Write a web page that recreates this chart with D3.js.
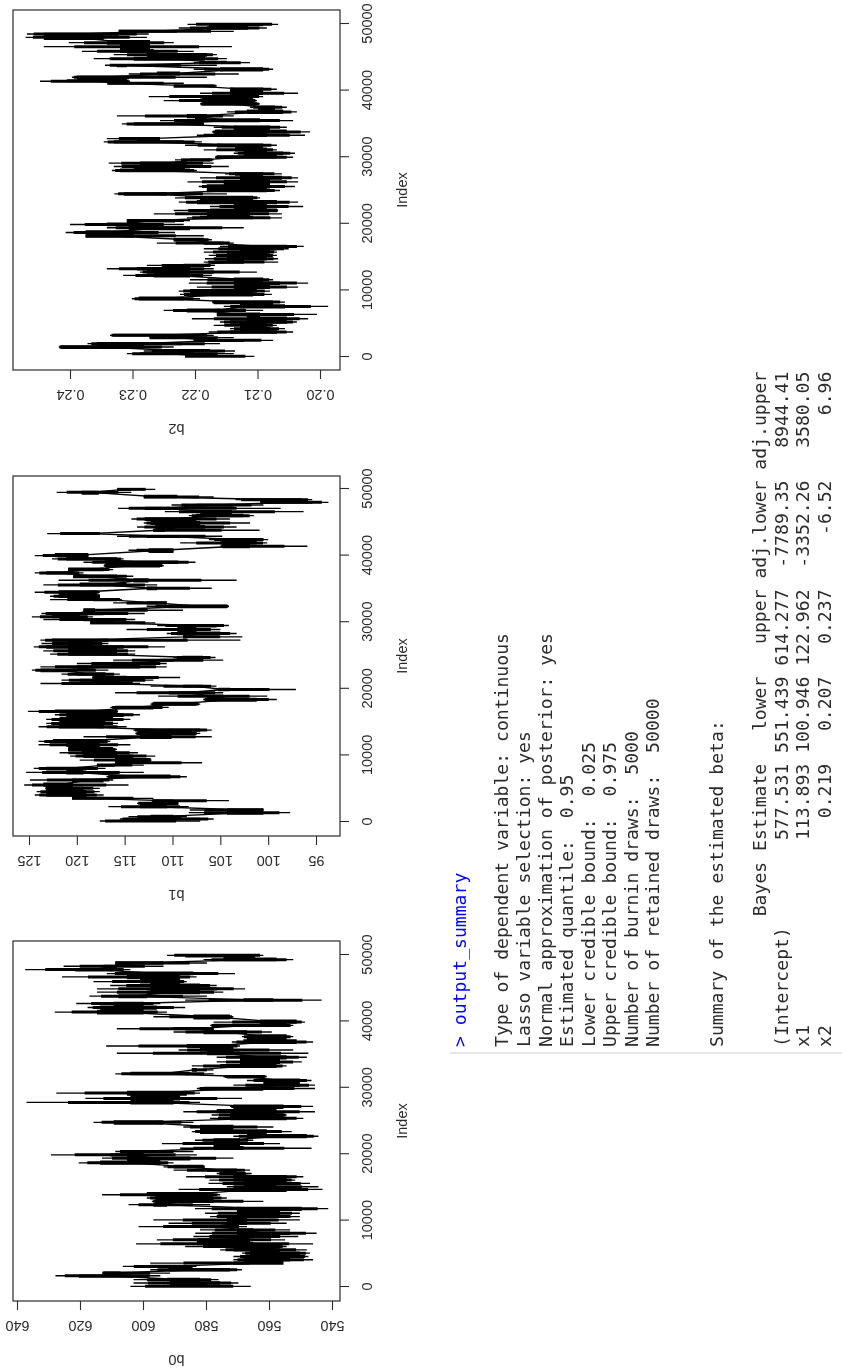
<!DOCTYPE html>
<html><head><meta charset="utf-8">
<script src="https://d3js.org/d3.v7.min.js"></script>
<style>html,body{margin:0;padding:0;background:#fff}svg{display:block;filter:blur(0.4px)}</style>
</head><body><svg id="c" width="842" height="1371"></svg>
<script>
const b0Index=[100,600,1100,1700,2100,2600,3100,3600,4100,4600,5100,5600,6100,6500,7100,7600,8100,8600,9100,9600,10100,10600,11100,11800,12400,12900,13400,13900,14700,15100,15600,16100,16600,17100,17600,18100,18700,19400,19900,20400,20900,21600,22100,22700,23400,24100,24800,25400,25900,26400,27200,27800,28400,29200,29900,30400,31100,31700,32100,32700,33300,33900,34600,35200,35700,36300,36900,37700,38400,38900,39400,39900,40700,41400,42100,42700,43200,43800,44400,44900,45400,46000,46700,47200,47800,48300,48800,49300,49950];
const b0Max=[604,603,603,627.8,613,597.7,606.4,597.7,571.3,571.3,568.6,575.5,586.6,602.2,595.6,584,583.4,581.9,601.4,591.9,596.7,578.7,580.3,583.5,604.6,597.2,598.8,613,588.7,573.4,579.2,578.9,586.3,576.6,590.3,593.5,620.4,613,629.2,608.8,588.2,594,583.5,571.3,584.5,587.2,615.7,578.7,578.2,587.2,572.4,637,618.3,627.5,582.9,571.3,567,574.5,608.8,584.5,584.5,576.6,576.6,608.3,588.7,611.7,571.8,568.6,590.3,608.3,578.7,577.6,596.7,628,617.6,621.2,586.6,617,614.6,614.6,610.4,615.7,625.7,611.5,637.4,625.2,608.8,580.8,592.4];
const b0Min=[565.8,569.7,576,594.5,591.4,568.6,583,573.4,546,547.5,547,548,554.4,546,554.9,550.7,544.9,553.3,567,554.4,550.2,550.2,550.2,541.2,578.7,561.8,573.4,575.5,543,544.3,547,551.7,549.1,565.5,566,580.3,590.3,571.3,582.9,584,546.5,556.5,565,544.3,552.8,558.6,584,549.1,554.4,545.4,546,581.9,568.6,581.9,545.4,545.4,546.5,560.7,577.6,577.6,554.4,549.6,548,547.5,552.3,569.2,546,552.3,559.1,577.6,552.3,548.6,571.3,592.4,586.6,594.5,543.3,579.7,574.5,567.6,576.6,586.1,583,570.8,604,593.5,579.7,552.3,561.8];
const b0CoreMax=[592.4,591.4,592.4,620.4,612.5,591.9,597.7,571.3,568.1,566,566,571.3,572.4,582.9,582.9,571.3,570.2,570.2,581.9,573.4,573.4,573.4,570.2,570.2,596.7,596.1,596.1,598.8,572.4,568.1,568.1,571.3,571.3,574.5,579.7,590.3,613.6,605.1,610.4,605.1,577.6,577.6,577.6,567,581.9,581.9,609.3,572.4,572.4,576.6,571.3,604,604,605.1,580.8,561.8,561.8,573.4,604,584.5,575.5,569.2,569.2,579.7,581.9,586.1,568.1,567,580.8,590.3,577.6,562.8,584,614.6,613.6,609.3,568.1,607.8,598.8,597.7,597.7,600.9,605.1,605.1,621.5,612.5,608.8,574.5,586.6];
const b0CoreMin=[579.7,575.5,581.9,603,607.2,572.4,586.1,555.4,553.3,550.2,550.2,556.5,557.6,565,566,565,553.3,565,573.4,567,567,557.6,556.5,549.6,592.4,577.6,577.6,577.6,554.4,557.6,554.4,554.4,554.4,570.2,570.2,580.8,594.5,585,599.8,599.8,568.1,569.2,569.2,548,560.7,571.3,593.5,554.4,555.4,557.6,555.4,590.3,588.2,586.1,561.8,550.2,550.2,561.8,585,582.9,557.6,556.5,554.4,569.2,571.3,571.3,551.2,554.4,567,577.6,554.4,551.2,572.4,599.8,595.6,599.8,558.6,598.8,581.9,576.6,581.9,588.2,588.2,584,609.3,608.3,593.5,557.6,564.4];

const b1Index=[150,450,800,1400,1800,2300,2800,3200,3550,4050,4550,5050,5550,6300,6800,7450,8050,8550,8900,9300,9900,10400,10900,11600,12100,12800,13300,13800,14300,14800,15400,16100,16600,17200,17700,18400,18900,19400,19900,20400,20800,21300,21700,22200,22800,23300,23800,24300,24700,25200,25700,26300,26800,27300,27800,28300,28900,29500,29900,30400,30800,31300,31800,32400,32900,33400,33900,34500,35100,35600,36300,36900,37400,37900,38500,39000,39500,40000,40800,41400,41900,42400,42900,43300,43800,44300,44900,45500,46000,46600,47100,47600,48000,48400,48800,49500,49950];
const b1Max=[117.6,115.5,114.6,108.3,108.2,116.7,113.7,112.2,120.5,124.4,124.2,123.3,125.5,124.9,116.9,125.3,124.5,117.9,116,119.7,120.7,121.8,120.9,124,124,119.3,113.9,114.1,124,123.2,123.2,122.3,125.1,116.5,112.3,106.8,111.5,116,105.2,112.3,123.8,121.6,118.4,121.6,124.7,123.8,120,116.2,109.9,122.8,123.5,124.5,123.7,123.8,108.9,110.6,114.8,111.6,118.6,123.5,124.7,123.7,119.3,112.7,116.2,122.8,122.8,124.4,112.7,123.5,121.9,120.4,124.4,120.9,117.2,119.3,122.6,124.4,114.6,105,109.2,106.2,115.8,123.1,112,113.7,113,114.3,108.3,110.8,115.7,110.1,100.8,103.4,113,122.1,115.8];
const b1Min=[107.1,105.7,108.5,97.7,100.5,108.3,109.4,104.1,112,117.2,117.6,117.6,114.6,116.2,108.5,113,117,113,106.9,112.2,111.8,113.6,115.8,114.4,116.5,105.9,107.1,105.9,114.8,115.7,114.4,113.4,115.7,110.4,107.1,99.1,100.1,104.7,97.1,105.4,113.4,112,109.2,115.5,116.7,110.6,110.6,104.7,105.5,113.9,113.9,110.8,116.7,102.9,102.7,103.3,105,104.1,111.8,113.9,118.3,112.9,108.9,104.1,110.6,115.3,117.6,117.6,105.9,111.6,103.3,114.1,119.3,116.2,110.9,107.6,115.1,118.8,109.9,95.9,100.1,100,104.8,117.6,100.9,103.3,101.9,104,101.5,96.3,98.7,100.5,93.7,95.4,105.7,114.3,111.8];
const b1CoreMax=[116.2,114.8,112.3,104.3,104.3,113.4,113.4,112,120.5,123.2,123.2,123.2,123.5,120.5,116.5,121.1,123.2,117.9,116,116,119.3,119.5,120.9,121.1,122.5,113.4,113.6,113.7,121.9,121.9,121.8,121.1,122.3,116,112,106.4,106.4,110.4,105.2,108.9,118.3,119.7,118.3,120,123.8,120,116.2,111.3,109,120.9,120.9,123.2,120.9,122.6,108.9,109.5,109.5,109.5,118.6,119.3,122.6,122.6,119.3,110.4,112.7,118.3,121.9,121.9,112.7,119.7,114.1,120.4,123.2,120.9,117,117,121.1,122.3,112.5,104.8,105,104.8,112.7,119.7,112,111.8,112.3,112.9,107.5,107.1,112.9,107.5,100.8,102,113,119.5,115.8];
const b1CoreMin=[113.4,107.1,109.9,100.5,100.5,110.6,109.4,109.9,117.2,119,119,119.3,120.4,117.2,110.2,119.3,119,116,112.3,112.3,114.1,115.8,116.2,117.6,117.2,110.1,108,107.1,117.2,117,116.2,115.1,115.8,112,107.5,101.2,104.7,106.8,104,106.8,115.3,114.1,114.8,117,120,113.4,112.3,109.9,106.8,115.8,115.8,115.1,118.3,116.7,108.5,105,107.5,105.4,114.4,116.2,119.7,117.2,118.1,104.3,110.6,115.8,117.6,117.9,111.6,114.8,112.5,115.8,120.4,117.2,111.3,109.4,115.8,118.8,109.9,101.9,101.2,101.2,109.2,117.6,110.8,106.6,107.1,107.5,102.6,103.8,110.2,103.6,95.4,96.5,109.5,117.7,114.3];

const b2Index=[100,500,900,1500,2000,2500,2900,3250,3750,4250,4750,5250,5750,6400,7000,7600,8250,8750,9400,9900,10500,11100,11600,12250,12750,13250,13750,14250,14750,15250,15750,16250,16600,17100,17600,18200,18700,19400,19900,20500,20900,21500,22000,22600,23250,23900,24500,25000,25600,26300,26900,27500,28000,28600,29100,29600,30000,30600,31100,31800,32300,32800,33300,33800,34500,35000,35500,36200,36800,37500,38000,38500,39100,39600,40200,40700,41100,41400,42000,42500,43200,43800,44200,44800,45400,45900,46600,47200,48000,48500,48900,49400,49950];
const b2Max=[.2216,.2309,.2282,.2418,.2372,.2202,.2273,.2336,.2178,.2144,.217,.216,.2205,.2165,.225,.2154,.2173,.2301,.2224,.2226,.2197,.221,.2208,.2315,.2288,.2341,.2277,.2186,.2184,.2178,.2186,.2186,.216,.2261,.2234,.2375,.2407,.2341,.24,.2309,.2213,.2266,.2234,.2176,.2226,.2232,.2329,.2181,.2194,.2212,.2192,.2152,.2333,.233,.2338,.2232,.2168,.2138,.2186,.2216,.2346,.2341,.2197,.2173,.217,.2317,.2256,.2325,.2149,.2112,.2192,.225,.2274,.2192,.2144,.2234,.234,.2448,.2397,.2306,.2202,.2344,.2202,.2362,.233,.2381,.2442,.2402,.2471,.2469,.2322,.2226,.2212];
const b2Min=[.2105,.2138,.2136,.2234,.216,.2075,.2138,.217,.2043,.2056,.2069,.2037,.2019,.2005,.2091,.1987,.2056,.2192,.2077,.208,.2035,.2019,.2075,.2173,.2101,.217,.2168,.2067,.2067,.2069,.2069,.205,.2026,.2138,.2173,.2186,.2232,.2122,.2218,.2208,.2061,.2061,.2067,.2027,.2035,.2096,.2149,.2064,.204,.2035,.2035,.2061,.2197,.2146,.217,.217,.2043,.204,.2069,.2069,.2189,.2256,.2024,.2016,.2053,.2186,.2043,.2138,.2037,.2053,.2096,.2101,.2091,.2035,.2069,.2165,.2218,.2304,.2181,.213,.2075,.2165,.2112,.2149,.2165,.2202,.2141,.2234,.2277,.2274,.2138,.2085,.2067];
const b2CoreMax=[.2216,.2288,.225,.2415,.2357,.2202,.2272,.233,.2144,.2128,.2128,.2144,.2117,.2165,.2213,.2128,.217,.229,.2208,.2208,.2138,.2138,.2138,.2266,.2277,.2293,.2218,.2168,.2149,.2149,.2149,.2128,.2128,.2186,.2234,.2375,.2375,.2306,.2341,.2309,.2192,.2181,.2176,.2138,.2197,.2192,.2314,.2181,.2181,.2154,.2128,.2136,.232,.2298,.2288,.2208,.2165,.2122,.2136,.2165,.233,.2293,.217,.2168,.2138,.2298,.22,.2213,.2117,.2099,.2189,.2189,.2192,.2144,.2144,.2234,.234,.2405,.2389,.2261,.216,.2325,.2181,.2298,.2277,.232,.232,.2341,.2442,.2442,.2322,.2181,.2178];
const b2CoreMin=[.2141,.2202,.2176,.2282,.2221,.2122,.2202,.2197,.2069,.208,.2085,.2053,.2053,.2096,.216,.2056,.2075,.2218,.2107,.2101,.208,.2064,.2091,.2208,.217,.2208,.2186,.2122,.2085,.2085,.208,.2069,.2053,.2154,.2186,.2298,.2298,.2208,.2298,.2232,.2107,.2112,.2069,.2085,.2069,.2107,.2245,.2085,.208,.208,.2061,.2091,.2208,.2216,.2213,.2176,.2069,.2059,.2085,.2091,.2218,.2256,.2085,.2053,.208,.2186,.2096,.2181,.2059,.2072,.2101,.2107,.2107,.2091,.2091,.217,.2298,.2309,.2306,.2224,.2091,.2309,.2149,.2184,.2181,.2266,.2272,.2272,.2346,.2322,.2229,.2115,.2091];

const indexTicks=[0,10000,20000,30000,40000,50000];
const b0Ticks=[540,560,580,600,620,640];
const b1Ticks=[95,100,105,110,115,120,125];
const b2Ticks=[.20,.21,.22,.23,.24];

const consoleHead="> output_summary";
const consoleLines=[
 [508,"Type of dependent variable: continuous"],
 [530,"Lasso variable selection: yes"],
 [551.5,"Normal approximation of posterior: yes"],
 [573,"Estimated quantile:  0.95"],
 [594.5,"Lower credible bound:  0.025"],
 [616,"Upper credible bound:  0.975"],
 [637.5,"Number of burnin draws:  5000"],
 [659,"Number of retained draws:  50000"],
 [723,"Summary of the estimated beta:"],
 [766,"            Bayes Estimate   lower   upper adj.lower adj.upper"],
 [787.5,"(Intercept)        577.531 551.439 614.277  -7789.35   8944.41"],
 [809,"x1                 113.893 100.946 122.962  -3352.26   3580.05"],
 [830.5,"x2                   0.219   0.207   0.237     -6.52      6.96"]
];

const H=1371;
const svg=d3.select("#c");
const root=svg.append("g").attr("transform",`translate(0,${H}) rotate(-90)`);
const boxTop=13, boxBottom=340;
const panels=[
 {name:"b0",idx:b0Index,max:b0Max,min:b0Min,cmax:b0CoreMax,cmin:b0CoreMin,ticks:b0Ticks,fmt:d3.format("d"),
  box:[70,430],x:[84,416],dom:[640,540],yr:[17,332]},
 {name:"b1",idx:b1Index,max:b1Max,min:b1Min,cmax:b1CoreMax,cmin:b1CoreMin,ticks:b1Ticks,fmt:d3.format("d"),
  box:[535,895],x:[549,882],dom:[125,95],yr:[29,316]},
 {name:"b2",idx:b2Index,max:b2Max,min:b2Min,cmax:b2CoreMax,cmin:b2CoreMin,ticks:b2Ticks,fmt:d3.format(".2f"),
  box:[1001,1361],x:[1014,1347],dom:[.24,.20],yr:[70,320]}
];
const ink="#2a2a2a", font="'Liberation Sans',Arial,sans-serif";
panels.forEach(p=>{
  const x=d3.scaleLinear().domain([0,50000]).range(p.x);
  const y=d3.scaleLinear().domain(p.dom).range(p.yr);
  const g=root.append("g");
  const rows=p.idx.map((d,k)=>({i:d,a:p.max[k],b:p.min[k],c:p.cmax[k],e:p.cmin[k]}));
  // thin full excursions of the trace, and thicker strokes part-way out
  g.append("g").selectAll("line").data(rows).join("line")
    .attr("x1",d=>x(d.i)).attr("x2",d=>x(d.i)).attr("y1",d=>y(d.a)).attr("y2",d=>y(d.b))
    .attr("stroke","#000").attr("stroke-width",1.35);
  g.append("g").selectAll("line").data(rows).join("line")
    .attr("x1",d=>x(d.i)).attr("x2",d=>x(d.i))
    .attr("y1",d=>y(d.c)*.4+y(d.a)*.6).attr("y2",d=>y(d.e)*.4+y(d.b)*.6)
    .attr("stroke","#000").attr("stroke-width",3);
  // the trace running from one row to the next
  g.append("path").datum(rows)
    .attr("d",d3.line().x(d=>x(d.i)).y(d=>(y(d.c)+y(d.e))/2))
    .attr("fill","none").attr("stroke","#000").attr("stroke-width",1.35);
  // dense core of the trace
  g.append("path").datum(rows)
    .attr("d",d3.area().curve(d3.curveStep).x(d=>x(d.i)).y0(d=>y(d.c)).y1(d=>y(d.e)))
    .attr("fill","#000");
  // box
  g.append("rect").attr("x",p.box[0]).attr("y",boxTop)
    .attr("width",p.box[1]-p.box[0]).attr("height",boxBottom-boxTop)
    .attr("fill","none").attr("stroke",ink).attr("stroke-width",1.2);
  // axes
  const ax=g.append("g").attr("transform",`translate(0,${boxBottom})`)
    .call(d3.axisBottom(x).tickValues(indexTicks).tickSize(9).tickPadding(13).tickFormat(d3.format("d")));
  const ay=g.append("g").attr("transform",`translate(${p.box[0]},0)`)
    .call(d3.axisLeft(y).tickValues(p.ticks).tickSize(9).tickFormat(p.fmt));
  ay.selectAll("text").attr("x",null).attr("dy",null).attr("text-anchor","middle")
    .attr("transform","translate(-20,0) rotate(-90)");
  [ax,ay].forEach(a=>{
    a.select(".domain").remove();
    a.selectAll("line").attr("stroke",ink).attr("stroke-width",1.1);
    a.selectAll("text").attr("font-family",font).attr("font-size",14.5).attr("fill",ink);
  });
  g.append("text").text("Index").attr("x",(p.box[0]+p.box[1])/2).attr("y",407)
    .attr("text-anchor","middle").attr("font-family",font).attr("font-size",14.5).attr("fill",ink);
  g.append("text").text(p.name)
    .attr("transform",`translate(${p.box[0]-54},176.5) rotate(-90)`)
    .attr("text-anchor","middle").attr("font-family",font).attr("font-size",14.5).attr("fill",ink);
});
// console
const con=root.append("g").attr("font-family","'DejaVu Sans Mono',monospace").attr("font-size",18.1);
root.append("line").attr("x1",318).attr("x2",318).attr("y1",450).attr("y2",842)
  .attr("stroke","#dcdcdc").attr("stroke-width",1.5);
con.append("text").text(consoleHead).attr("x",324).attr("y",466).attr("fill","#0000ff");
con.selectAll("text.l").data(consoleLines).join("text").attr("class","l")
  .attr("x",324).attr("y",d=>d[0]).attr("fill","#2b2b2b")
  .style("white-space","pre").attr("xml:space","preserve").text(d=>d[1]);
</script></body></html>
